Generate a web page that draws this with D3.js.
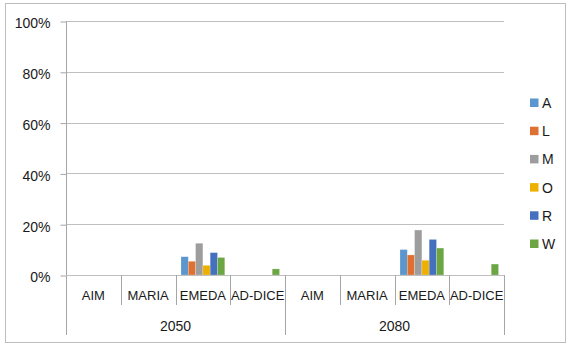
<!DOCTYPE html>
<html>
<head>
<meta charset="utf-8">
<script src="https://cdn.jsdelivr.net/npm/d3@7/dist/d3.min.js"></script>
<style>
  html, body { margin: 0; padding: 0; background: #fff; }
  svg { display: block; font-family: "Liberation Sans", Arial, sans-serif; }
</style>
</head>
<body>
<svg id="chart" width="568" height="347"></svg>
<script>
// Scenario years (outer axis level) and models (inner axis level)
const years = ["2050", "2080"];
const models = ["AIM", "MARIA", "EMEDA", "AD-DICE"];
const seriesNames = ["A", "L", "M", "O", "R", "W"];
const seriesColors = ["#5B97CE", "#DE7132", "#9D9D9D", "#EDB000", "#4470BE", "#6CA543"];
const yTicks = [0, 0.2, 0.4, 0.6, 0.8, 1.0];

// Shares per series, one entry per year × model (AIM, MARIA, EMEDA, AD-DICE)
const valuesA = [null, null, 0.072, null,   null, null, 0.100, null];
const valuesL = [null, null, 0.054, null,   null, null, 0.079, null];
const valuesM = [null, null, 0.125, null,   null, null, 0.177, null];
const valuesO = [null, null, 0.038, null,   null, null, 0.058, null];
const valuesR = [null, null, 0.088, null,   null, null, 0.140, null];
const valuesW = [null, null, 0.069, 0.024,  null, null, 0.106, 0.043];
const seriesValues = [valuesA, valuesL, valuesM, valuesO, valuesR, valuesW];

const svg = d3.select("#chart");
const plotLeft = 66, plotRight = 504, plotTop = 21, plotBottom = 275;
const textColor = "#1a1a1a";

// Outer frame
svg.append("rect")
  .attr("x", 5.5).attr("y", 3.5).attr("width", 560).attr("height", 339)
  .attr("fill", "#fff").attr("stroke", "#BDBDBD").attr("stroke-width", 1);

const y = d3.scaleLinear().domain([0, 1]).range([plotBottom, plotTop]);
const xYear = d3.scaleBand().domain(years).range([plotLeft, plotRight]);
const xModel = d3.scaleBand().domain(models).range([0, xYear.bandwidth()]);
const xSeries = d3.scaleBand().domain(seriesNames).range([0, xModel.bandwidth()])
  .paddingInner(0).paddingOuter(0.75);

// Horizontal gridlines
svg.append("g").selectAll("line").data(yTicks.slice(1)).join("line")
  .attr("x1", plotLeft).attr("x2", plotRight)
  .attr("y1", d => Math.round(y(d)) + 0.5).attr("y2", d => Math.round(y(d)) + 0.5)
  .attr("stroke", "#BFBFBF").attr("stroke-width", 1);

// Y axis
const yAxis = svg.append("g")
  .attr("transform", `translate(${plotLeft + 0.5},0.5)`)
  .call(d3.axisLeft(y).tickValues(yTicks).tickFormat(d3.format(".0%")).tickSize(6).tickPadding(10));
yAxis.select(".domain").remove();
yAxis.selectAll(".tick line").attr("stroke", "#A6A6A6");
yAxis.selectAll(".tick text")
  .attr("font-size", 14).attr("fill", textColor).attr("dy", "0.45em")
  .attr("font-family", "Liberation Sans, Arial, sans-serif");
svg.append("line")
  .attr("x1", plotLeft + 0.5).attr("x2", plotLeft + 0.5).attr("y1", plotTop).attr("y2", 335)
  .attr("stroke", "#A6A6A6");

// Bars
const cells = [];
years.forEach((yr, yi) => {
  models.forEach((m, mi) => {
    seriesNames.forEach((s, si) => {
      const v = seriesValues[si][yi * models.length + mi];
      if (v != null) cells.push({ yr, m, s, si, v });
    });
  });
});
svg.append("g").selectAll("rect").data(cells).join("rect")
  .attr("x", d => xYear(d.yr) + xModel(d.m) + xSeries(d.s))
  .attr("y", d => y(d.v))
  .attr("width", xSeries.bandwidth())
  .attr("height", d => plotBottom - y(d.v))
  .attr("fill", d => seriesColors[d.si])
  .attr("stroke", "#fff").attr("stroke-opacity", 0.35).attr("stroke-width", 0.6);

// Baseline
svg.append("line")
  .attr("x1", plotLeft).attr("x2", plotRight).attr("y1", plotBottom + 0.5).attr("y2", plotBottom + 0.5)
  .attr("stroke", "#BFBFBF");

// Category separators and labels
const catAxis = svg.append("g");
years.forEach(yr => {
  models.forEach((m, mi) => {
    const x0 = xYear(yr) + xModel(m);
    if (mi > 0) {
      catAxis.append("line")
        .attr("x1", Math.round(x0) + 0.5).attr("x2", Math.round(x0) + 0.5)
        .attr("y1", plotBottom).attr("y2", 305).attr("stroke", "#A6A6A6");
    }
    catAxis.append("text")
      .attr("x", x0 + xModel.bandwidth() / 2).attr("y", 300)
      .attr("text-anchor", "middle").attr("font-size", 13).attr("fill", textColor)
      .text(m);
  });
});
// Year group separators and labels
years.forEach(yr => {
  const xEnd = xYear(yr) + xYear.bandwidth();
  catAxis.append("line")
    .attr("x1", Math.round(xEnd) + 0.5).attr("x2", Math.round(xEnd) + 0.5)
    .attr("y1", plotBottom).attr("y2", 335).attr("stroke", "#A6A6A6");
  catAxis.append("text")
    .attr("x", xYear(yr) + xYear.bandwidth() / 2).attr("y", 331)
    .attr("text-anchor", "middle").attr("font-size", 14).attr("fill", textColor)
    .text(yr);
});

// Legend
const legend = svg.append("g");
const legendY = d3.scalePoint().domain(seriesNames).range([103, 244]);
seriesNames.forEach((s, i) => {
  legend.append("rect")
    .attr("x", 530).attr("y", legendY(s) - 4.5).attr("width", 8.5).attr("height", 8.5)
    .attr("fill", seriesColors[i]);
  legend.append("text")
    .attr("x", 542).attr("y", legendY(s) + 5)
    .attr("font-size", 14).attr("fill", textColor).text(s);
});
</script>
</body>
</html>
